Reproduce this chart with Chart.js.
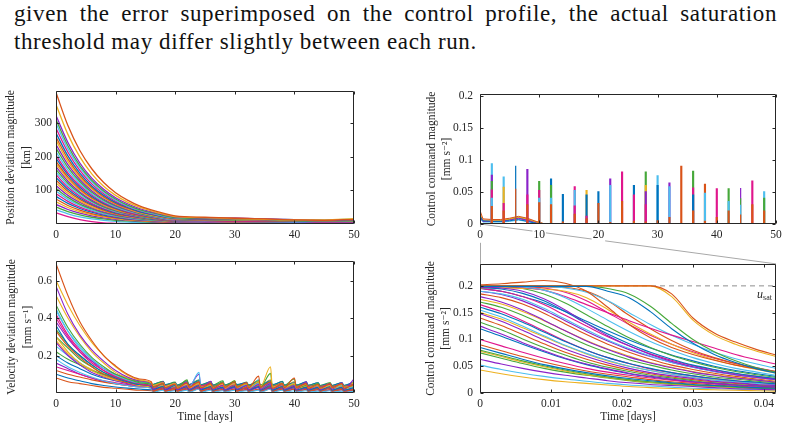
<!DOCTYPE html>
<html>
<head>
<meta charset="utf-8">
<script src="https://cdn.jsdelivr.net/npm/chart.js@4.4.1/dist/chart.umd.min.js"></script>
<style>
  body { margin: 0; width: 788px; height: 429px; overflow: hidden; position: relative; background: #fff; }
  .txt { position: absolute; left: 14px; width: 763px; font-family: "Liberation Serif", "DejaVu Serif", "Noto Serif", serif; font-size: 23px;
         letter-spacing: 0.6px; line-height: 28px; color: #111; white-space: nowrap; }
  #l1 { top: 0; text-align: justify; text-align-last: justify; }
  #l2 { top: 28px; }
  canvas { position: absolute; }
</style>
</head>
<body>
<div class="txt" id="l1">given the error superimposed on the control profile, the actual saturation</div>
<div class="txt" id="l2">threshold may differ slightly between each run.</div>
<canvas id="links" width="788" height="429" style="left:0;top:0"></canvas>
<canvas id="posChart" width="370" height="170" style="left:0;top:80px"></canvas>
<canvas id="ctrlChart" width="388" height="170" style="left:400px;top:80px"></canvas>
<canvas id="velChart" width="370" height="179" style="left:0;top:250px"></canvas>
<canvas id="hourChart" width="388" height="179" style="left:400px;top:250px"></canvas>
<script>
// MATLAB-ish line colours, cycled per run
const palette = ['#0072BD', '#D95319', '#EDB120', '#8B22C9', '#46A83A', '#4DBEEE', '#E0168C'];

// ---- position deviation [km], 50 days
const posDays = [0, 2, 4, 6, 8, 10, 12, 14, 17, 20, 25, 30, 35, 40, 45, 50];
const posRuns = [
  [390,292,218,164,123,93,71,54,37,24,20,17,15,12,11,14],
  [355,266,199,149,112,85,65,50,34,22,19,16,14,12,12,16],
  [322,242,181,136,103,78,60,46,32,21,18,17,15,13,11,13],
  [310,232,173,130,98,74,56,43,30,19,16,15,13,11,10,12],
  [298,223,167,125,94,71,54,41,28,18,17,16,14,13,12,15],
  [284,213,159,119,90,68,52,40,27,18,15,14,12,11,10,11],
  [270,202,151,113,85,64,49,37,25,17,14,13,12,10,9,10],
  [258,193,144,108,81,61,47,36,25,16,16,17,15,13,11,13],
  [248,185,138,104,78,59,45,34,23,15,13,12,11,10,8,9],
  [236,176,132,99,74,56,43,33,22,14,15,14,14,12,10,12],
  [225,168,126,94,71,54,41,31,21,14,12,11,10,9,8,8],
  [214,160,120,90,67,51,39,30,20,13,14,15,13,11,9,10],
  [204,152,114,86,64,49,37,28,19,12,11,10,9,8,7,7],
  [195,146,109,82,61,47,36,27,18,12,13,12,12,10,9,11],
  [186,139,104,78,59,45,34,26,17,11,10,9,9,8,7,7],
  [178,133,100,75,56,43,33,25,17,11,12,13,11,10,8,9],
  [170,127,95,71,54,41,31,24,16,10,9,8,8,7,6,6],
  [162,121,91,68,51,39,30,23,15,10,11,10,10,9,8,8],
  [154,115,86,65,49,37,29,22,15,10,8,7,7,6,5,5],
  [146,109,82,61,46,35,27,21,14,9,10,11,9,8,7,8],
  [138,103,77,58,44,33,26,20,13,9,8,8,7,6,5,6],
  [130,97,73,55,41,31,24,19,13,8,7,6,6,5,5,5],
  [122,91,68,51,39,30,23,18,12,8,9,9,8,7,6,7],
  [114,85,64,48,36,28,21,17,12,8,6,5,5,4,4,4],
  [106,79,59,45,34,26,20,15,11,7,7,7,6,6,5,5],
  [98,73,55,41,31,24,18,14,10,7,5,5,4,4,3,3],
  [90,67,50,38,29,22,17,13,9,6,6,6,5,5,4,4],
  [82,61,46,35,26,20,15,12,9,6,4,4,3,3,3,3],
  [74,55,41,31,24,18,14,11,8,5,5,5,4,4,3,4],
  [66,49,37,28,21,16,12,10,7,5,3,3,3,2,2,2],
  [58,43,32,24,18,14,11,9,6,4,4,4,3,3,3,3],
  [50,37,27,20,15,11,9,7,5,4,3,2,2,2,2,2],
  [42,30,21,15,11,8,6,5,4,3,2,2,2,1,1,1],
  [33,22,13,7,3,2,1,1,1,1,1,1,1,1,1,1]
];
const posTicks = [100, 200, 300];

// ---- control command [mm s^-2], 50 days
const ctrlEarlyDays = [0, 0.0417, 0.5, 2, 3.5, 5, 6.5, 8, 9.5, 11];
const ctrlEarly = [
  [0.2,0.012,0.005,0.004,0.004,0.005,0.007,0.004,0.001,0],
  [0.2,0.02,0.008,0.007,0.007,0.009,0.012,0.009,0.004,0],
  [0.2,0.015,0.006,0.006,0.006,0.008,0.011,0.008,0.003,0],
  [0.2,0.01,0.004,0.004,0.004,0.006,0.009,0.006,0.002,0],
  [0.2,0.01,0.005,0.004,0.005,0.007,0.01,0.007,0.003,0],
  [0.2,0.008,0.003,0.003,0.003,0.004,0.006,0.004,0.001,0],
  [0.2,0.012,0.006,0.005,0.005,0.007,0.009,0.005,0.002,0]
];
const pulseDays = [2,4,6,8,10,12,14,16,18,20,22,24,26,28,30,32,34,36,38,40,42,44,46,48];
const pulseHalfWidth = 0.08;
const pulseHeights = [
  [0.027,0.02,0.055,0.03,0.033,0.03,0.003,0.015,0.008,0.032,0.002,0.035,0.004,0.003,0.005,0.01,0.09,0.02,0.004,0.01,0.02,0.015,0.03,0.02],
  [0.04,0,0,0,0.04,0.04,0,0,0,0,0.06,0,0,0,0,0.058,0,0,0.048,0,0.035,0.03,0,0],
  [0.053,0.032,0,0.045,0.052,0,0,0.028,0.012,0,0,0.081,0.045,0.03,0,0,0,0,0,0.055,0,0,0.067,0],
  [0.066,0,0,0,0.066,0.06,0,0,0,0,0,0,0,0,0,0,0,0,0,0,0.055,0.04,0,0.04],
  [0.076,0,0,0.085,0,0,0,0,0,0,0.07,0,0,0.05,0,0.064,0,0,0,0,0,0.056,0,0],
  [0,0,0.091,0,0,0.07,0.046,0,0.045,0.05,0,0,0.06,0,0.06,0,0,0.045,0,0,0,0,0,0],
  [0,0.057,0,0,0,0,0,0,0.052,0,0,0,0,0.06,0,0,0,0,0,0,0,0,0,0],
  [0.094,0.073,0,0,0,0,0,0.052,0,0,0,0,0,0,0.075,0,0,0,0,0,0,0,0,0.05],
  [0,0,0,0,0,0,0,0.058,0,0,0,0,0,0,0,0,0,0.056,0,0,0,0,0,0],
  [0,0,0,0,0,0,0,0,0,0,0,0,0,0.081,0,0,0,0.082,0,0,0,0,0,0],
  [0,0,0,0,0,0,0,0,0,0,0,0,0,0,0,0,0,0,0.062,0,0,0,0,0]
];
const pulseColorIdx = [1, 5, 6, 4, 3, 0, 2, 5, 6, 4, 1];
const ctrlTicks = [0, 0.05, 0.1, 0.15, 0.2];

// ---- velocity deviation [mm s^-1], 50 days
const velDays = [0,2,4,6,8,10,12,14,16,16.3,18,18.3,20,20.3,22,22.3,24,24.3,26,26.3,28,28.3,30,30.3,
  32,32.3,34,34.3,36,36.3,38,38.3,40,40.3,42,42.3,44,44.3,46,46.3,48,48.3,50];
const velRuns = [
  [.69,.52,.38,.28,.2,.145,.1,.075,.06, .03,.05,.028,.048,.025,.055,.03,.06,.028,.05,.025,.055,.03,.06,.03,.055,.028,.09,.03,.06,.025,.05,.028,.08,.03,.05,.025,.045,.025,.05,.028,.05,.025,.045],
  [.6,.47,.36,.27,.2,.14,.095,.07,.055, .04,.055,.035,.05,.03,.045,.03,.05,.03,.045,.028,.05,.03,.05,.03,.05,.03,.06,.035,.14,.03,.05,.03,.05,.03,.045,.028,.04,.025,.04,.028,.045,.03,.04],
  [.57,.42,.31,.23,.17,.12,.085,.065,.05, .02,.06,.02,.05,.018,.04,.02,.045,.02,.063,.02,.04,.018,.045,.02,.04,.018,.045,.02,.05,.02,.045,.02,.04,.018,.06,.02,.04,.018,.045,.02,.055,.02,.075],
  [.47,.35,.26,.19,.14,.1,.075,.055,.045, .035,.05,.03,.045,.03,.07,.032,.05,.03,.045,.03,.06,.03,.065,.03,.05,.03,.06,.03,.105,.03,.05,.03,.045,.028,.04,.028,.05,.03,.04,.03,.045,.03,.04],
  [.45,.33,.24,.18,.13,.095,.07,.055,.045, .03,.045,.03,.05,.028,.045,.03,.11,.03,.045,.028,.06,.03,.05,.028,.045,.028,.05,.028,.05,.03,.045,.028,.05,.03,.045,.028,.04,.025,.04,.025,.04,.025,.035],
  [.4,.3,.22,.16,.12,.085,.065,.05,.04, .04,.05,.038,.048,.035,.05,.04,.055,.038,.05,.035,.05,.035,.05,.035,.048,.035,.05,.035,.05,.035,.05,.035,.048,.035,.048,.035,.045,.035,.045,.035,.045,.035,.045],
  [.36,.26,.2,.15,.11,.08,.06,.045,.035, .02,.035,.018,.04,.018,.035,.015,.04,.018,.035,.015,.03,.015,.035,.018,.04,.015,.035,.015,.04,.015,.035,.015,.035,.015,.03,.015,.03,.015,.035,.015,.03,.015,.03],
  [.33,.25,.19,.14,.1,.075,.055,.045,.035, .01,.03,.01,.025,.01,.03,.012,.035,.01,.03,.01,.03,.012,.04,.01,.03,.01,.045,.012,.035,.01,.03,.01,.035,.012,.03,.01,.025,.01,.03,.01,.025,.01,.02],
  [.3,.22,.16,.12,.09,.07,.055,.04,.032, .025,.04,.025,.035,.022,.04,.025,.045,.025,.04,.022,.035,.022,.04,.025,.035,.022,.04,.022,.045,.022,.04,.022,.04,.022,.035,.022,.035,.02,.03,.02,.035,.02,.03],
  [.27,.2,.15,.11,.085,.065,.05,.04,.03, .015,.025,.015,.03,.012,.025,.015,.03,.012,.025,.012,.025,.012,.03,.012,.025,.012,.03,.012,.03,.012,.025,.012,.03,.012,.025,.012,.025,.012,.025,.012,.025,.012,.02],
  [.22,.18,.15,.12,.1,.085,.07,.06,.05, .045,.06,.04,.055,.04,.05,.04,.06,.04,.055,.04,.05,.04,.055,.04,.05,.04,.05,.04,.055,.04,.05,.04,.05,.04,.05,.04,.045,.038,.045,.038,.045,.038,.045],
  [.18,.14,.11,.085,.065,.05,.04,.032,.025, .005,.015,.005,.012,.005,.015,.005,.02,.005,.015,.005,.012,.005,.015,.005,.012,.005,.015,.005,.02,.005,.015,.005,.012,.005,.012,.005,.01,.005,.012,.005,.01,.005,.01],
  [.14,.12,.1,.08,.065,.055,.045,.038,.032, .03,.04,.028,.045,.03,.04,.028,.045,.028,.04,.025,.04,.028,.045,.028,.04,.025,.04,.025,.045,.025,.04,.025,.04,.025,.04,.025,.035,.025,.035,.025,.035,.025,.03],
  [.1,.08,.065,.05,.04,.032,.026,.021,.017, .02,.03,.02,.028,.018,.03,.02,.035,.018,.03,.018,.028,.018,.03,.018,.028,.018,.03,.018,.03,.018,.028,.018,.03,.018,.028,.018,.025,.018,.025,.018,.025,.018,.025],
  [.08,.06,.05,.04,.03,.025,.02,.015,.012, .008,.02,.008,.018,.008,.02,.008,.022,.008,.02,.008,.018,.008,.02,.008,.018,.008,.02,.008,.022,.008,.02,.008,.02,.008,.018,.008,.018,.008,.018,.008,.018,.008,.015],
  [.52,.4,.3,.22,.16,.11,.08,.06,.045, .025,.04,.025,.045,.022,.04,.025,.045,.025,.06,.022,.04,.025,.045,.022,.04,.022,.045,.022,.05,.025,.045,.022,.04,.022,.055,.022,.04,.02,.045,.02,.04,.02,.06],
  [.38,.29,.22,.17,.13,.1,.08,.065,.05, .035,.05,.035,.055,.035,.06,.035,.1,.035,.05,.03,.055,.032,.05,.03,.055,.03,.05,.03,.055,.032,.05,.03,.05,.03,.045,.03,.045,.03,.045,.03,.05,.03,.045],
  [.3,.24,.18,.14,.1,.08,.06,.048,.038, .02,.035,.02,.03,.018,.035,.02,.04,.018,.035,.018,.03,.018,.04,.02,.035,.018,.04,.018,.035,.02,.035,.018,.03,.018,.035,.018,.03,.018,.03,.018,.035,.018,.03],
  [.25,.2,.16,.12,.095,.075,.06,.05,.04, .03,.045,.03,.04,.028,.045,.03,.05,.03,.045,.028,.04,.028,.045,.03,.04,.028,.045,.028,.045,.028,.04,.028,.045,.028,.04,.028,.04,.028,.04,.028,.04,.028,.04],
  [.42,.31,.23,.17,.12,.09,.065,.05,.04, .012,.03,.012,.025,.01,.03,.012,.035,.012,.03,.01,.03,.012,.035,.012,.03,.01,.035,.012,.03,.01,.035,.012,.03,.01,.03,.012,.025,.01,.03,.01,.025,.01,.02],
  [.2,.16,.13,.1,.08,.065,.055,.045,.04, .045,.06,.045,.055,.042,.06,.045,.065,.045,.06,.042,.055,.042,.06,.045,.055,.042,.06,.042,.065,.045,.06,.042,.055,.042,.06,.042,.055,.04,.05,.04,.055,.04,.06],
  [.12,.1,.085,.07,.058,.048,.04,.034,.03, .015,.028,.015,.032,.015,.028,.014,.032,.015,.03,.014,.035,.015,.03,.014,.028,.014,.032,.015,.035,.014,.03,.014,.032,.015,.028,.014,.03,.014,.028,.014,.03,.014,.025],
  [.28,.21,.16,.125,.095,.075,.06,.05,.042, .038,.052,.036,.05,.035,.055,.036,.06,.036,.05,.035,.055,.035,.065,.036,.05,.035,.06,.035,.07,.036,.055,.035,.06,.035,.05,.034,.05,.034,.05,.034,.05,.034,.05],
  [.16,.13,.1,.08,.062,.05,.04,.032,.026, .006,.02,.006,.018,.006,.02,.006,.025,.006,.02,.006,.018,.006,.022,.006,.018,.006,.02,.006,.025,.006,.02,.006,.022,.006,.02,.006,.018,.006,.016,.006,.018,.006,.015],
  [.34,.26,.2,.15,.11,.085,.065,.052,.042, .045,.062,.044,.058,.042,.065,.044,.07,.043,.06,.042,.065,.043,.06,.042,.058,.042,.065,.042,.06,.042,.062,.042,.075,.042,.058,.04,.055,.04,.056,.04,.055,.04,.055],
  [.44,.33,.25,.18,.13,.095,.07,.055,.045, .022,.038,.02,.035,.02,.04,.022,.045,.02,.038,.02,.035,.02,.05,.022,.04,.02,.07,.022,.045,.02,.04,.02,.06,.022,.04,.02,.038,.02,.04,.02,.038,.02,.035]
];
const velTicks = [0.2, 0.4, 0.6];

// ---- control command [mm s^-2], first hour
const hourDays = [0, .003, .006, .009, .012, .015, .018, .021, .024, .027, .030, .033, .036, .039, .0417];
const hourRuns = [
  [.199,.199,.199,.199,.199,.199,.19,.178,.152,.12,.093,.072,.057,.045,.037],
  [.2,.2,.2,.2,.2,.2,.2,.2,.2,.185,.14,.112,.095,.081,.071],
  [.2,.2,.2,.2,.2,.2,.2,.2,.2,.18,.136,.108,.091,.078,.068],
  [.198,.196,.19,.176,.155,.13,.107,.088,.072,.059,.049,.041,.034,.029,.025],
  [.2,.2,.2,.2,.2,.2,.195,.185,.162,.13,.1,.077,.06,.047,.039],
  [.2,.2,.198,.192,.178,.158,.136,.115,.096,.08,.066,.055,.046,.039,.033],
  [.2,.199,.197,.192,.18,.165,.15,.135,.121,.108,.096,.084,.072,.062,.054],
  [.197,.194,.186,.172,.152,.13,.11,.092,.076,.063,.052,.044,.037,.031,.027],
  [.202,.204,.207,.21,.205,.19,.16,.128,.103,.085,.072,.061,.052,.045,.039],
  [.196,.196,.195,.194,.19,.178,.156,.132,.11,.091,.075,.062,.052,.044,.037],
  [.18,.17,.155,.136,.116,.097,.081,.067,.056,.047,.039,.033,.028,.024,.02],
  [.2,.199,.195,.185,.168,.146,.124,.103,.085,.07,.058,.048,.04,.034,.029],
  [.2,.2,.2,.199,.196,.188,.172,.15,.128,.108,.091,.076,.064,.054,.046],
  [.195,.19,.18,.165,.145,.125,.105,.088,.073,.061,.051,.043,.036,.031,.026],
  [.195,.19,.18,.168,.152,.134,.116,.099,.084,.071,.06,.05,.042,.036,.031],
  [.198,.198,.198,.198,.197,.19,.172,.145,.12,.098,.08,.066,.055,.046,.04],
  [.175,.166,.152,.135,.116,.098,.082,.069,.057,.048,.04,.034,.029,.024,.021],
  [.148,.134,.117,.099,.082,.068,.056,.046,.038,.032,.027,.022,.019,.016,.014],
  [.17,.16,.145,.127,.108,.09,.075,.062,.052,.043,.036,.03,.026,.022,.019],
  [.19,.185,.175,.158,.138,.118,.099,.083,.069,.057,.048,.04,.034,.029,.025],
  [.2,.2,.199,.196,.188,.172,.15,.128,.108,.091,.077,.065,.055,.047,.04],
  [.16,.148,.132,.114,.096,.08,.066,.055,.046,.038,.032,.027,.023,.02,.017],
  [.185,.178,.166,.149,.129,.109,.091,.076,.063,.052,.044,.037,.031,.026,.022],
  [.043,.036,.03,.025,.021,.018,.015,.012,.01,.0085,.007,.006,.005,.0042,.0035],
  [.125,.11,.094,.079,.065,.054,.045,.037,.031,.026,.021,.018,.015,.013,.011],
  [.132,.118,.101,.085,.071,.058,.048,.04,.033,.028,.023,.019,.016,.014,.012],
  [.155,.142,.125,.107,.089,.074,.061,.05,.042,.035,.029,.024,.021,.018,.015],
  [.165,.152,.135,.116,.097,.08,.066,.055,.045,.038,.032,.027,.023,.019,.017],
  [.085,.074,.063,.053,.045,.038,.032,.027,.023,.019,.016,.014,.012,.01,.009],
  [.14,.126,.109,.092,.076,.063,.052,.043,.036,.03,.025,.021,.018,.015,.013],
  [.15,.138,.122,.105,.088,.073,.06,.05,.042,.035,.029,.025,.021,.018,.015],
  [.063,.054,.046,.039,.033,.028,.023,.019,.016,.014,.012,.01,.008,.007,.006],
  [.08,.07,.06,.051,.043,.036,.03,.025,.021,.018,.015,.013,.011,.009,.008],
  [.052,.044,.037,.031,.026,.022,.018,.015,.013,.011,.009,.008,.007,.006,.005],
  [.1,.088,.076,.065,.055,.046,.039,.033,.028,.024,.02,.017,.015,.013,.011],
  [.12,.106,.091,.077,.064,.053,.044,.036,.03,.025,.021,.018,.015,.013,.011],
  [.09,.079,.068,.058,.049,.041,.035,.03,.025,.021,.018,.015,.013,.011,.01],
  [.078,.068,.058,.049,.041,.034,.029,.024,.02,.017,.014,.012,.01,.009,.008],
  [.19,.184,.172,.155,.135,.115,.097,.081,.068,.057,.048,.04,.034,.029,.025],
  [.075,.065,.055,.046,.039,.033,.028,.023,.019,.016,.014,.012,.01,.008,.007]
];
const uSat = 0.2;
const hourEnd = 0.0417;
const hourTicks = [0, 0.01, 0.02, 0.03, 0.04];
const dayTicks = [0, 10, 20, 30, 40, 50];

const ink = '#262626';
const serif = '"Liberation Serif", "DejaVu Serif", "Noto Serif", serif';

function toPoints(xs, ys) {
  const n = Math.min(xs.length, ys.length);
  const pts = [];
  for (let i = 0; i < n; i++) pts.push({ x: xs[i], y: ys[i] });
  return pts;
}

function runSets(xs, runs, colorOffset, smooth, width) {
  return runs.map((r, i) => ({
    data: toPoints(xs, r),
    borderColor: palette[(i + colorOffset) % palette.length],
    borderWidth: width || 1,
    cubicInterpolationMode: smooth ? 'monotone' : 'default',
    pointRadius: 0
  }));
}

function pulseSet(heights, color) {
  const pts = [{ x: 0, y: 0 }];
  pulseDays.forEach((d, i) => {
    const h = heights[i];
    if (!h) return;
    pts.push({ x: d - pulseHalfWidth, y: 0 }, { x: d - pulseHalfWidth, y: h },
             { x: d + pulseHalfWidth, y: h }, { x: d + pulseHalfWidth, y: 0 });
  });
  pts.push({ x: 50, y: 0 });
  return { data: pts, borderColor: color, borderWidth: 1.2, pointRadius: 0 };
}

// box round the plot area with inward ticks on all four sides
const boxPlugin = {
  id: 'box',
  afterDatasetsDraw(chart) {
    const { ctx, chartArea: a, scales } = chart;
    const l = Math.round(a.left) + 0.5, r = Math.round(a.right) - 0.5;
    const t = Math.round(a.top) + 0.5, b = Math.round(a.bottom) - 0.5;
    ctx.save();
    ctx.strokeStyle = ink;
    ctx.lineWidth = 1;
    ctx.beginPath();
    ctx.rect(l, t, r - l, b - t);
    scales.x.ticks.forEach(tk => {
      const x = Math.round(scales.x.getPixelForValue(tk.value)) + 0.5;
      ctx.moveTo(x, b); ctx.lineTo(x, b - 3);
      ctx.moveTo(x, t); ctx.lineTo(x, t + 3);
    });
    scales.y.ticks.forEach(tk => {
      const y = Math.round(scales.y.getPixelForValue(tk.value)) + 0.5;
      ctx.moveTo(l, y); ctx.lineTo(l + 3, y);
      ctx.moveTo(r, y); ctx.lineTo(r - 3, y);
    });
    ctx.stroke();
    ctx.restore();
  }
};

const satLabel = {
  id: 'satLabel',
  afterDatasetsDraw(chart) {
    const { ctx, chartArea: a, scales: { y } } = chart;
    const base = y.getPixelForValue(uSat) + 12;
    ctx.save();
    ctx.fillStyle = ink;
    ctx.textBaseline = 'alphabetic';
    ctx.font = '8px ' + serif;
    const ws = ctx.measureText('sat').width;
    ctx.fillText('sat', a.right - 4 - ws, base + 2);
    ctx.font = 'italic 12px ' + serif;
    const wu = ctx.measureText('u').width;
    ctx.fillText('u', a.right - 4 - ws - wu, base);
    ctx.restore();
  }
};

function axis(min, max, ticks, o) {
  return {
    type: 'linear', min, max,
    grid: { display: false, drawTicks: false },
    border: { display: false },
    afterBuildTicks: s => { s.ticks = ticks.map(v => ({ value: v })); },
    afterFit: s => { if (o.width) s.width = o.width; if (o.height) s.height = o.height; },
    ticks: {
      color: ink, font: { family: serif, size: 11.5 }, padding: o.pad, maxRotation: 0,
      autoSkip: false, callback: v => String(v),
      showLabelBackdrop: !!o.backdrop, backdropColor: '#fff', backdropPadding: 1
    },
    title: o.title ? {
      display: true, text: o.title, color: ink,
      font: { family: serif, size: 11.5, lineHeight: 1.35 },
      padding: o.titlePad
    } : { display: false }
  };
}

function makeChart(id, datasets, o) {
  return new Chart(document.getElementById(id), {
    type: 'line',
    data: { datasets },
    options: {
      responsive: false, animation: false, events: [], devicePixelRatio: 1,
      layout: { padding: { top: o.top, right: o.right, left: 0, bottom: 0 } },
      plugins: { legend: { display: false }, tooltip: { enabled: false } },
      scales: { x: o.x, y: o.y }
    },
    plugins: [boxPlugin].concat(o.plugins || [])
  });
}

const posChart = makeChart('posChart', runSets(posDays, posRuns, 1, true, 1.3), {
  top: 9, right: 16,
  x: axis(0, 50, dayTicks, { height: 26, pad: 4 }),
  y: axis(0, 395, posTicks, { width: 56, pad: 4, title: ['Position deviation magnitude', '[km]'], titlePad: { top: 3.5, bottom: 0 } })
});

const ctrlSets = pulseHeights.map((h, i) => pulseSet(h, palette[pulseColorIdx[i]]))
  .concat(runSets(ctrlEarlyDays, ctrlEarly, 0, false));
const ctrlChart = makeChart('ctrlChart', ctrlSets, {
  top: 10, right: 12,
  x: axis(0, 50, dayTicks, { height: 26, pad: 4, backdrop: true }),
  y: axis(0, 0.203, ctrlTicks, { width: 80, pad: 7, title: ['Control command magnitude', '[mm s\u207B\u00B2]'], titlePad: { top: 24, bottom: 0 } })
});

const velChart = makeChart('velChart', runSets(velDays, velRuns, 1, true, 1.1), {
  top: 8, right: 16,
  x: axis(0, 50, dayTicks, { height: 36, pad: 4, title: 'Time [days]', titlePad: { top: 0, bottom: 4.5 } }),
  y: axis(0, 0.705, velTicks, { width: 56, pad: 4, title: ['Velocity deviation magnitude', '[mm s\u207B\u00B9]'], titlePad: { top: 4.7, bottom: 0 } })
});

const hourSets = runSets(hourDays, hourRuns, 0, true, 1.1).concat([{
  data: [{ x: 0, y: uSat }, { x: hourEnd, y: uSat }],
  borderColor: '#8f8f8f', borderWidth: 1, borderDash: [5, 4], pointRadius: 0
}]);
const hourChart = makeChart('hourChart', hourSets, {
  top: 8, right: 12,
  x: axis(0, hourEnd, hourTicks, { height: 36, pad: 4, title: 'Time [days]', titlePad: { top: 0, bottom: 4.5 } }),
  y: axis(0, 0.241, ctrlTicks, { width: 80, pad: 7, title: ['Control command magnitude', '[mm s\u207B\u00B2]'], titlePad: { top: 23, bottom: 0 } }),
  plugins: [satLabel]
});

// grey zoom lines from the first hour of the top panel to the bottom panel
function drawLinks(top, bottom) {
  const ctx = document.getElementById('links').getContext('2d');
  const tr = top.canvas.getBoundingClientRect();
  const br = bottom.canvas.getBoundingClientRect();
  const y0 = tr.top + top.chartArea.bottom;
  const xa = tr.left + top.scales.x.getPixelForValue(0);
  const xb = tr.left + top.scales.x.getPixelForValue(hourEnd);
  const y1 = br.top + bottom.chartArea.top;
  ctx.strokeStyle = '#a8a8a8';
  ctx.lineWidth = 1;
  ctx.beginPath();
  ctx.moveTo(Math.round(xa) + 0.5, y0); ctx.lineTo(Math.round(br.left + bottom.chartArea.left) + 0.5, y1);
  ctx.moveTo(xb, y0); ctx.lineTo(br.left + bottom.chartArea.right, y1);
  ctx.stroke();
}
drawLinks(ctrlChart, hourChart);
</script>
</body>
</html>
